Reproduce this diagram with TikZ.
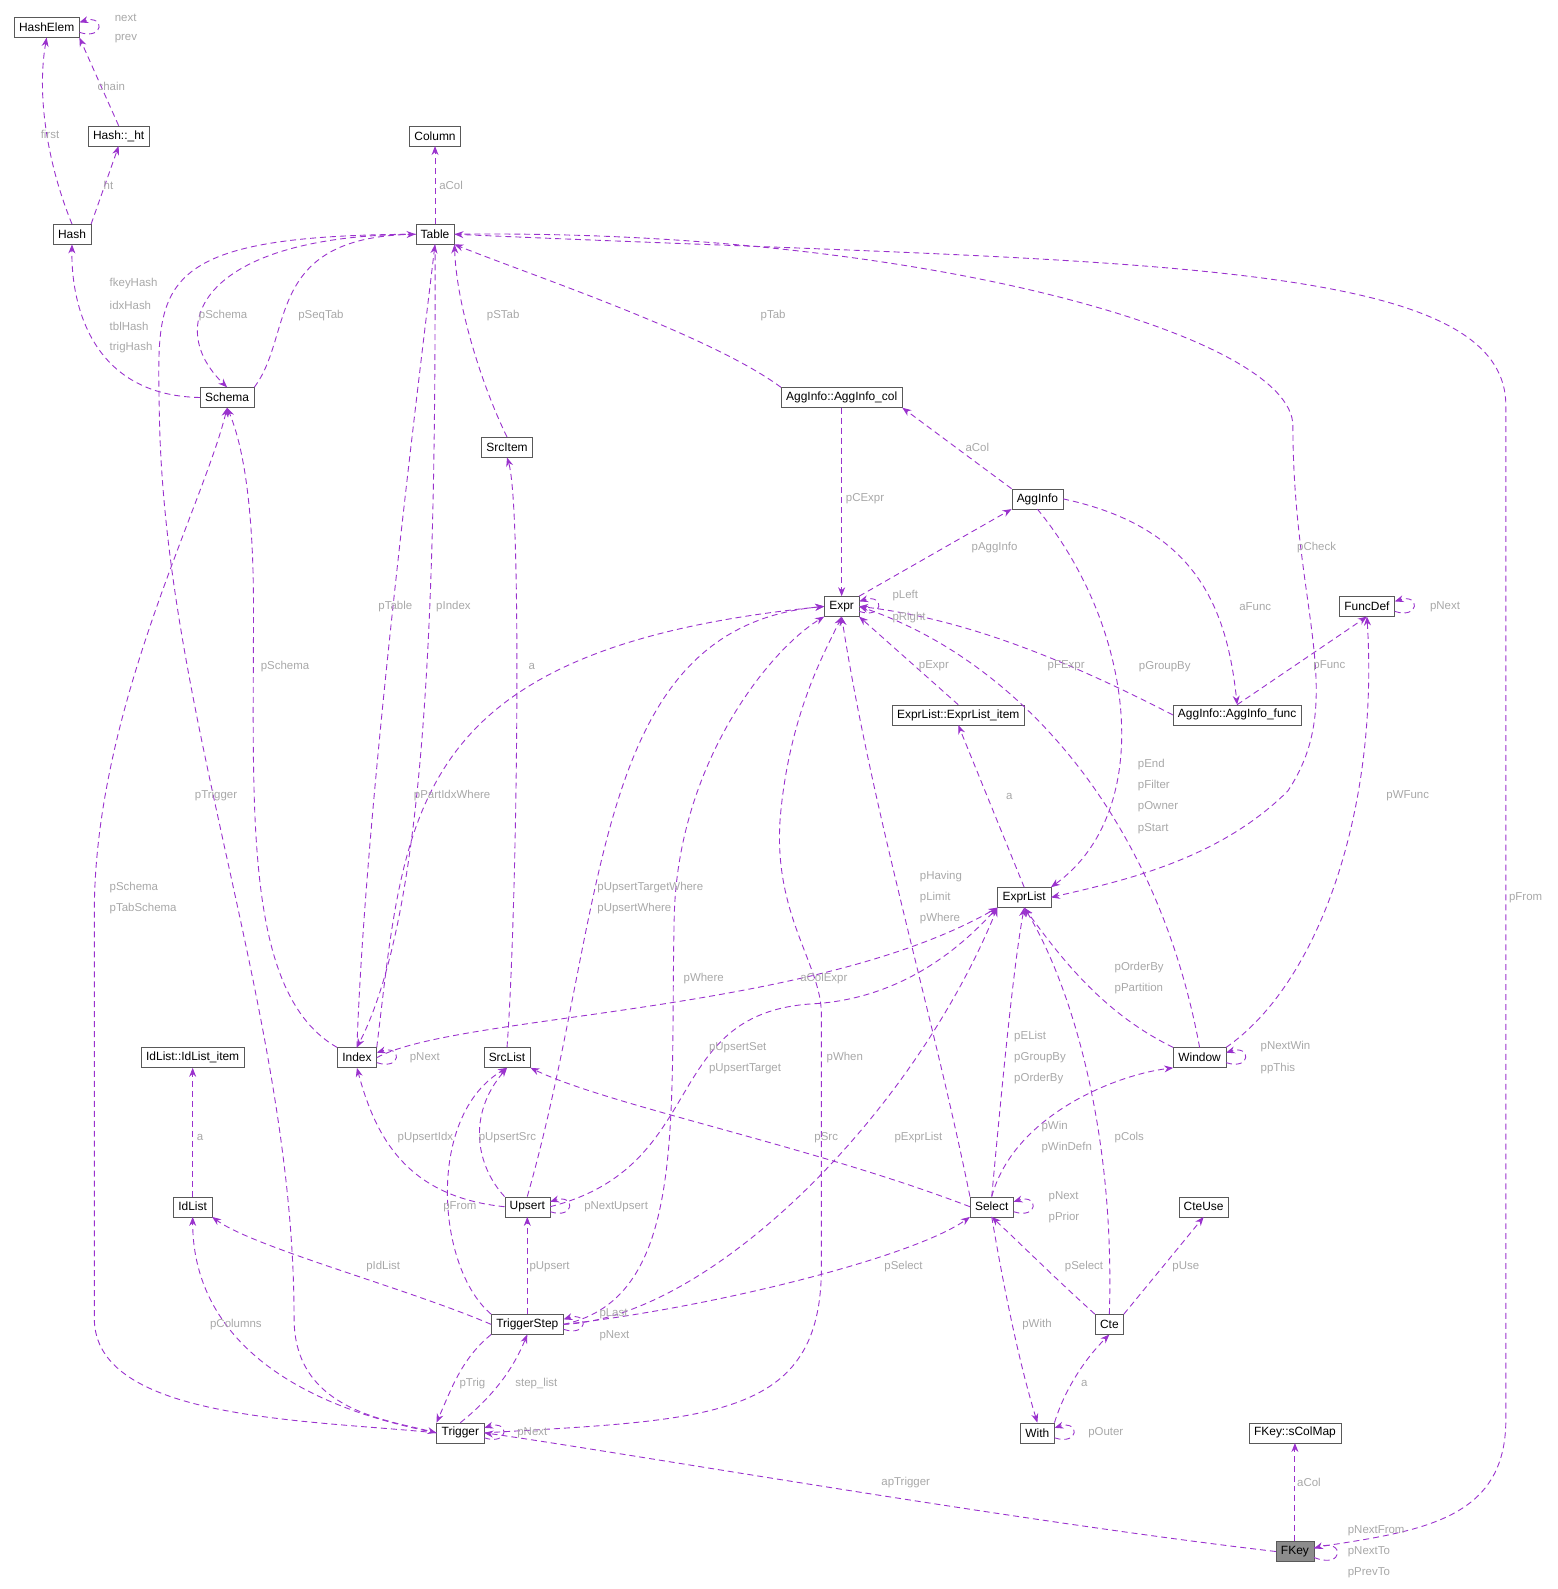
\documentclass[tikz,border=0pt]{standalone}
\usepackage{fontspec}
\setmainfont{Liberation Sans}
\usetikzlibrary{arrows.meta}
\definecolor{ec}{HTML}{9A32CD}
\definecolor{lc}{HTML}{A8A8A8}
\tikzset{
 box/.style={draw=black!65,fill=white,rectangle,inner xsep=5pt,minimum height=20bp,font=\fontsize{12}{14}\selectfont},
 e/.style={draw=ec,dashed,dash pattern=on 6pt off 4pt,line width=0.9pt,-{Stealth[length=9pt,width=7pt]}},
 lb/.style={text=lc,font=\fontsize{11.5}{13}\selectfont,inner sep=0pt,anchor=west}
}
\begin{document}
\begin{tikzpicture}[x=1.014bp,y=-1.014bp]
\useasboundingbox (0,0) rectangle (1535.5,1567);
% nodes
\node[box] (he) at (46,27) {HashElem};
\node[box] (ht) at (117,134) {Hash::\_ht};
\node[box] (col) at (429,134) {Column};
\node[box] (hash) at (71,231) {Hash};
\node[box] (tab) at (429,231) {Table};
\node[box] (sch) at (224,392) {Schema};
\node[box] (aic) at (830,392) {AggInfo::AggInfo\_col};
\node[box] (si) at (500,441) {SrcItem};
\node[box] (ai) at (1023,492) {AggInfo};
\node[box] (ex) at (830,598) {Expr};
\node[box] (fd) at (1348,598) {FuncDef};
\node[box] (eli) at (945,705) {ExprList::ExprList\_item};
\node[box] (aif) at (1220,705) {AggInfo::AggInfo\_func};
\node[box] (el) at (1010,885) {ExprList};
\node[box] (ili) at (190,1043) {IdList::IdList\_item};
\node[box] (idx) at (352,1043) {Index};
\node[box] (sl) at (500,1043) {SrcList};
\node[box] (win) at (1183,1043) {Window};
\node[box] (il) at (190,1190) {IdList};
\node[box] (up) at (520,1190) {Upsert};
\node[box] (sel) at (978,1190) {Select};
\node[box] (cu) at (1187,1190) {CteUse};
\node[box] (ts) at (520,1306) {TriggerStep};
\node[box] (cte) at (1094,1306) {Cte};
\node[box] (tr) at (454,1413) {Trigger};
\node[box] (wi) at (1023,1413) {With};
\node[box] (scm) at (1277,1413) {FKey::sColMap};
\node[box,fill=black!45] (fk) at (1277,1530) {FKey};
% edges
\draw[e] ([yshift=-5pt]he.east) .. controls +(25,8) and +(25,-8) .. ([yshift=5pt]he.east);
\draw[e] (ht.north) -- (he.south east);
\draw[e] (hash.north) .. controls (50,170) and (35,100) .. (he.south);
\draw[e] (hash.north east) -- (ht.south);
\draw[e] (tab.north) -- (col.south);
\draw[e] (sch.west) .. controls (90,390) and (70,300) .. (hash.south);
\draw[e] (sch.north east) .. controls (290,330) and (260,235) .. (tab.west);
\draw[e] (tab.west) .. controls (200,232) and (160,320) .. (sch.north);
\draw[e] (idx.north) .. controls (360,800) and (410,400) .. (tab.south);
\draw[e] (tab.south) .. controls (430,600) and (420,900) .. (idx.north);
\draw[e] (si.north) .. controls (475,380) and (450,300) .. (tab.south east);
\draw[e] (aic.north west) .. controls (700,330) and (520,270) .. (tab.south east);
\draw[e] (tab.east) .. controls (900,225) and (1275,330) .. (1275,420) .. controls (1275,600) and (1330,690) .. (1270,780) .. controls (1200,850) and (1100,870) .. (el.east);
\draw[e] ([yshift=4pt]fk.east) .. controls (1400,1510) and (1485,1500) .. (1485,1400) -- (1485,400) .. controls (1485,250) and (1100,260) .. (tab.east);
\draw[e] (tab.west) .. controls (150,232) and (155,280) .. (157,400) .. controls (160,700) and (290,1000) .. (290,1300) .. controls (290,1390) and (380,1400) .. (tr.west);
\draw[e] (idx.north west) .. controls (240,980) and (250,800) .. (250,600) .. controls (250,500) and (240,440) .. (sch.south);
\draw[e] (tr.west) .. controls (300,1400) and (93,1400) .. (93,1300) -- (93,900) .. controls (93,700) and (200,500) .. (sch.south);
\draw[e] (sl.north) .. controls (510,900) and (515,500) .. (si.south);
\draw[e] (aic.south) -- (ex.north);
\draw[e] (ai.north west) -- (aic.south east);
\draw[e] (ex.north east) -- (ai.south west);
\draw[e] ([yshift=-5pt]ex.east) .. controls +(25,8) and +(25,-8) .. ([yshift=5pt]ex.east);
\draw[e] (ai.east) .. controls (1180,520) and (1210,600) .. (aif.north);
\draw[e] (ai.south) .. controls (1120,620) and (1140,800) .. (el.north east);
\draw[e] ([yshift=-5pt]fd.east) .. controls +(25,8) and +(25,-8) .. ([yshift=5pt]fd.east);
\draw[e] (aif.north) -- (fd.south);
\draw[e] (aif.west) .. controls (1050,650) and (950,610) .. (ex.east);
\draw[e] (eli.north) -- (ex.south east);
\draw[e] (el.north) -- (eli.south);
\draw[e] (idx.north east) .. controls (400,800) and (400,640) .. (ex.west);
\draw[e] (up.north) .. controls (600,900) and (580,620) .. (ex.west);
\draw[e] (win.north) .. controls (1140,800) and (1000,650) .. (ex.east);
\draw[e] (win.north east) .. controls (1300,970) and (1360,800) .. (fd.south);
\draw[e] (sel.north west) .. controls (920,1000) and (860,800) .. (ex.south);
\draw[e] (sel.north) .. controls (990,1050) and (1000,950) .. (el.south);
\draw[e] (win.north west) .. controls (1090,1000) and (1050,950) .. (el.south);
\draw[e] (idx.east) .. controls (450,1000) and (800,1000) .. (el.south west);
\draw[e] (up.east) .. controls (700,1150) and (650,1000) .. (800,990) .. controls (900,985) and (960,920) .. (el.south west);
\draw[e] (ts.east) .. controls (680,1280) and (660,1100) .. (665,900) .. controls (670,750) and (760,640) .. (ex.south west);
\draw[e] (tr.east) .. controls (700,1400) and (810,1400) .. (810,1250) -- (810,1000) .. controls (810,950) and (760,900) .. (770,800) .. controls (780,700) and (815,640) .. (ex.south);
\draw[e] (ts.east) .. controls (700,1300) and (900,1100) .. (el.south west);
\draw[e] (cte.north) .. controls (1100,1100) and (1050,960) .. (el.south);
\draw[e] ([yshift=-5pt]idx.east) .. controls +(25,8) and +(25,-8) .. ([yshift=5pt]idx.east);
\draw[e] (up.west) .. controls (400,1180) and (370,1120) .. (idx.south);
\draw[e] (up.north west) .. controls (470,1150) and (460,1100) .. (sl.south);
\draw[e] (ts.north west) .. controls (430,1250) and (420,1100) .. (sl.south);
\draw[e] (sel.west) .. controls (800,1130) and (600,1090) .. (sl.south east);
\draw[e] (sel.north) .. controls (1000,1100) and (1100,1060) .. (win.south west);
\draw[e] ([yshift=-5pt]win.east) .. controls +(25,8) and +(25,-8) .. ([yshift=5pt]win.east);
\draw[e] ([yshift=-5pt]sel.east) .. controls +(25,8) and +(25,-8) .. ([yshift=5pt]sel.east);
\draw[e] ([yshift=-5pt]up.east) .. controls +(25,8) and +(25,-8) .. ([yshift=5pt]up.east);
\draw[e] ([yshift=-5pt]ts.east) .. controls +(25,8) and +(25,-8) .. ([yshift=5pt]ts.east);
\draw[e] ([yshift=-5pt]wi.east) .. controls +(25,8) and +(25,-8) .. ([yshift=5pt]wi.east);
\draw[e] ([yshift=-5pt]tr.east) .. controls +(25,8) and +(25,-8) .. ([yshift=5pt]tr.east);
\draw[e] ([yshift=-6pt]fk.east) .. controls +(30,12) and +(30,-10) .. ([yshift=3pt]fk.east);
\draw[e] (il.north) -- (ili.south);
\draw[e] (ts.west) .. controls (400,1270) and (250,1230) .. (il.south east);
\draw[e] (tr.west) .. controls (260,1380) and (190,1300) .. (il.south);
\draw[e] (ts.north) -- (up.south);
\draw[e] (ts.east) .. controls (700,1290) and (900,1240) .. (sel.south west);
\draw[e] (cte.north west) .. controls (1040,1260) and (1010,1230) .. (sel.south);
\draw[e] (cte.north east) -- (cu.south);
\draw[e] (sel.south) .. controls (995,1300) and (1010,1360) .. (wi.north);
\draw[e] (wi.north east) .. controls (1050,1370) and (1070,1340) .. (cte.south);
\draw[e] (ts.south west) .. controls (455,1340) and (445,1370) .. (tr.north west);
\draw[e] (tr.north) .. controls (495,1370) and (510,1340) .. (ts.south);
\draw[e] (fk.west) .. controls (1000,1500) and (600,1430) .. (tr.east);
\draw[e] (fk.north) -- (scm.south);
% labels
\node[lb] (l1) at (113,18) {next};
\node[lb] (l2) at (113,38) {prev};
\node[lb] (l3) at (96,85) {chain};
\node[lb] (l4) at (40,133) {first};
\node[lb] (l5) at (102,183) {ht};
\node[lb] (l6) at (433,183) {aCol};
\node[lb] (l7) at (108,280) {fkeyHash};
\node[lb] (l8) at (108,301) {idxHash};
\node[lb] (l9) at (108,322) {tblHash};
\node[lb] (l10) at (108,343) {trigHash};
\node[lb] (l11) at (196,311) {pSchema};
\node[lb] (l12) at (294,311) {pSeqTab};
\node[lb] (l13) at (480,311) {pSTab};
\node[lb] (l14) at (750,311) {pTab};
\node[lb] (l15) at (952,441) {aCol};
\node[lb] (l16) at (834,492) {pCExpr};
\node[lb] (l17) at (958,540) {pAggInfo};
\node[lb] (l18) at (1279,540) {pCheck};
\node[lb] (l19) at (880,587) {pLeft};
\node[lb] (l20) at (880,609) {pRight};
\node[lb] (l21) at (1222,598) {aFunc};
\node[lb] (l22) at (1410,598) {pNext};
\node[lb] (l23) at (373,598) {pTable};
\node[lb] (l24) at (430,598) {pIndex};
\node[lb] (l25) at (521,657) {a};
\node[lb] (l26) at (257,657) {pSchema};
\node[lb] (l27) at (906,657) {pExpr};
\node[lb] (l28) at (1033,657) {pFExpr};
\node[lb] (l29) at (1123,657) {pGroupBy};
\node[lb] (l30) at (1295,657) {pFunc};
\node[lb] (l31) at (192,785) {pTrigger};
\node[lb] (l32) at (408,785) {pPartIdxWhere};
\node[lb] (l33) at (992,785) {a};
\node[lb] (l34) at (1122,754) {pEnd};
\node[lb] (l35) at (1122,775) {pFilter};
\node[lb] (l36) at (1122,796) {pOwner};
\node[lb] (l37) at (1122,817) {pStart};
\node[lb] (l38) at (1367,785) {pWFunc};
\node[lb] (l39) at (907,864) {pHaving};
\node[lb] (l40) at (907,885) {pLimit};
\node[lb] (l41) at (907,906) {pWhere};
\node[lb] (l42) at (108,875) {pSchema};
\node[lb] (l43) at (108,896) {pTabSchema};
\node[lb] (l44) at (589,875) {pUpsertTargetWhere};
\node[lb] (l45) at (589,896) {pUpsertWhere};
\node[lb] (l46) at (1099,954) {pOrderBy};
\node[lb] (l47) at (1099,975) {pPartition};
\node[lb] (l48) at (674,965) {pWhere};
\node[lb] (l49) at (789,965) {aColExpr};
\node[lb] (l50) at (1000,1022) {pEList};
\node[lb] (l51) at (1000,1043) {pGroupBy};
\node[lb] (l52) at (1000,1064) {pOrderBy};
\node[lb] (l53) at (404,1043) {pNext};
\node[lb] (l54) at (699,1033) {pUpsertSet};
\node[lb] (l55) at (699,1054) {pUpsertTarget};
\node[lb] (l56) at (815,1043) {pWhen};
\node[lb] (l57) at (1243,1032) {pNextWin};
\node[lb] (l58) at (1243,1054) {ppThis};
\node[lb] (l59) at (392,1122) {pUpsertIdx};
\node[lb] (l60) at (472,1122) {pUpsertSrc};
\node[lb] (l61) at (803,1122) {pSrc};
\node[lb] (l62) at (882,1122) {pExprList};
\node[lb] (l63) at (1027,1111) {pWin};
\node[lb] (l64) at (1027,1132) {pWinDefn};
\node[lb] (l65) at (1099,1122) {pCols};
\node[lb] (l66) at (1034,1180) {pNext};
\node[lb] (l67) at (1034,1201) {pPrior};
\node[lb] (l68) at (437,1190) {pFrom};
\node[lb] (l69) at (576,1190) {pNextUpsert};
\node[lb] (l70) at (361,1249) {pIdList};
\node[lb] (l71) at (522,1249) {pUpsert};
\node[lb] (l72) at (872,1249) {pSelect};
\node[lb] (l73) at (1050,1249) {pSelect};
\node[lb] (l74) at (1156,1249) {pUse};
\node[lb] (l75) at (207,1306) {pColumns};
\node[lb] (l76) at (591,1296) {pLast};
\node[lb] (l77) at (591,1317) {pNext};
\node[lb] (l78) at (1008,1306) {pWith};
\node[lb] (l79) at (453,1364) {pTrig};
\node[lb] (l80) at (508,1364) {step\_list};
\node[lb] (l81) at (1066,1364) {a};
\node[lb] (l82) at (510,1413) {pNext};
\node[lb] (l83) at (1073,1413) {pOuter};
\node[lb] (l84) at (869,1462) {apTrigger};
\node[lb] (l85) at (1279,1462) {aCol};
\node[lb] (l86) at (1488,885) {pFrom};
\node[lb] (l87) at (1329,1510) {pNextFrom};
\node[lb] (l88) at (1329,1530) {pNextTo};
\node[lb] (l89) at (1329,1551) {pPrevTo};
\node[lb] (l90) at (194,1122) {a};
\end{tikzpicture}
\end{document}
